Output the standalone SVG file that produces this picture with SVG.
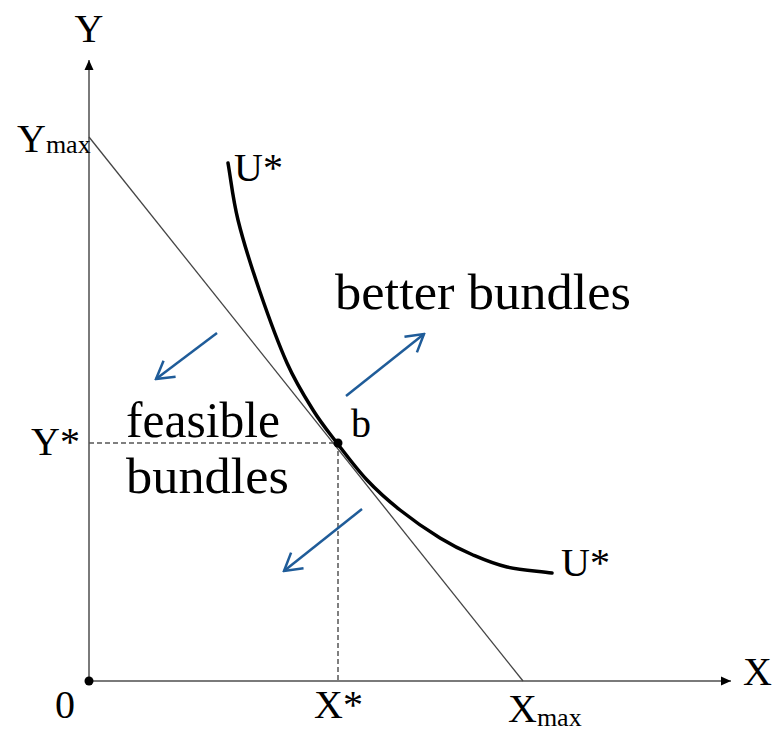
<svg xmlns="http://www.w3.org/2000/svg" width="773" height="733" viewBox="0 0 773 733">
<style>
.lbl{fill:#000}
.big{font-size:40px}
.sub{font-size:26px}
.word{font-size:50px;fill:#000}
.axis{stroke:#7a7a7a;stroke-width:2;fill:none}
.dash{stroke:#555;stroke-width:1.5;stroke-dasharray:5 3;fill:none}
.blue{stroke:#1f5c99;stroke-width:2.5;fill:none}
</style>
<defs>
<marker id="ah" viewBox="-10 -5 10 10" refX="0" refY="0" markerWidth="10" markerHeight="10" markerUnits="userSpaceOnUse" orient="auto">
<path d="M-10,-4.5 L0,0 L-10,4.5 Z" fill="#000"/>
</marker>
<marker id="bh" viewBox="-20 -12 22 24" refX="0" refY="0" markerWidth="22" markerHeight="24" markerUnits="userSpaceOnUse" orient="auto">
<path d="M-17,-10 L0,0 L-17,10" fill="none" stroke="#1f5c99" stroke-width="2.5"/>
</marker>
</defs>
<rect width="773" height="733" fill="#fff"/>
<g id="axes">
<line class="axis" x1="89" y1="681" x2="89" y2="60" marker-end="url(#ah)"/>
<line class="axis" x1="89" y1="681" x2="731" y2="681" marker-end="url(#ah)"/>
<circle cx="89" cy="681" r="4.5" fill="#000"/>
</g>
<g id="connectors">
<line id="budget-line" x1="89" y1="137" x2="523" y2="681" stroke="#444" stroke-width="1.3"/>
<path id="dash-h" class="dash" d="M89,443 H336"/>
<path id="dash-v" class="dash" d="M338,443 V681"/>
<path id="indifference-curve" d="M228,163 C231.3,182 232.7,198.5 238,220 C243.3,241.5 251.8,268.2 260,292 C268.2,315.8 278.2,343.3 287,363 C295.8,382.7 304.7,396.7 313,410 C321.3,423.3 328,431.3 337,443 C346,454.7 356.5,468.8 367,480 C377.5,491.2 387.8,500.3 400,510 C412.2,519.7 427.8,530.5 440,538 C452.2,545.5 461.8,550.2 473,555 C484.2,559.8 493.8,564 507,567 C520.2,570 537,571 552,573" stroke="#000" stroke-width="3.5" fill="none" stroke-linecap="round"/>
<line class="blue" x1="217" y1="333" x2="156" y2="379" marker-end="url(#bh)"/>
<line class="blue" x1="346" y1="396" x2="424" y2="334" marker-end="url(#bh)"/>
<line class="blue" x1="362" y1="509" x2="284" y2="571" marker-end="url(#bh)"/>
</g>
<g font-family="Liberation Serif, Times New Roman, Tinos, Noto Serif, DejaVu Serif, FreeSerif, serif">
<g id="point-b">
<circle cx="338" cy="443" r="4.5" fill="#000"/>
<text class="lbl big" x="351" y="437">b</text>
</g>
<g id="labels">
<text class="lbl big" x="89" y="42" text-anchor="middle">Y</text>
<text class="lbl" x="17" y="152"><tspan class="big">Y</tspan><tspan class="sub" y="153">max</tspan></text>
<text class="lbl big" x="31" y="455">Y*</text>
<text class="lbl big" x="55" y="718">0</text>
<text class="lbl big" x="314" y="718">X*</text>
<text class="lbl" x="508" y="722"><tspan class="big">X</tspan><tspan class="sub" y="726">max</tspan></text>
<text class="lbl big" x="743" y="685">X</text>
<text class="lbl big" x="234" y="181">U*</text>
<text class="lbl big" x="561" y="576">U*</text>
</g>
<g id="region-labels">
<text class="word" x="335" y="309" textLength="296" lengthAdjust="spacingAndGlyphs">better bundles</text>
<text class="word" x="126" y="437" textLength="154" lengthAdjust="spacingAndGlyphs">feasible</text>
<text class="word" x="126" y="493" textLength="163" lengthAdjust="spacingAndGlyphs">bundles</text>
</g>
</g>
</svg>
